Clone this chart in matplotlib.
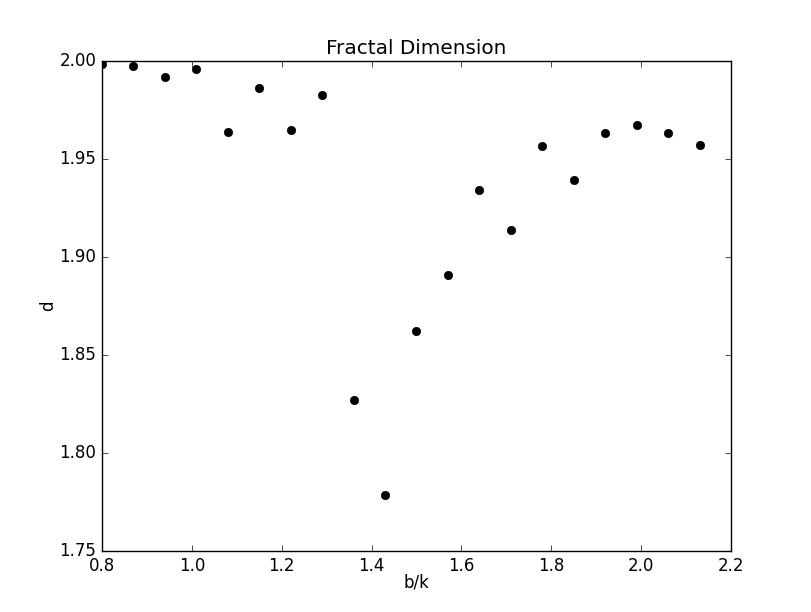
import numpy as np
import matplotlib
matplotlib.use("Agg")
import matplotlib.pyplot as plt

plt.style.use('classic')

bk = [0.80, 0.87, 0.94, 1.01, 1.08, 1.15, 1.22, 1.29, 1.36, 1.43,
      1.50, 1.57, 1.64, 1.71, 1.78, 1.85, 1.92, 1.99, 2.06, 2.13]
d = [1.9985, 1.9974, 1.9918, 1.9959, 1.9638, 1.9862, 1.9648, 1.9827, 1.8270, 1.7786,
     1.8622, 1.8908, 1.9342, 1.9138, 1.9566, 1.9393, 1.9633, 1.9673, 1.9633, 1.9571]

fig = plt.figure(figsize=(8.12, 6.12), dpi=100)
ax = fig.add_axes([102/812, 1 - 551/612, 629/812, 490/612])
ax.plot(bk, d, 'ko', markersize=6)
ax.set_xlim(0.8, 2.2)
ax.set_ylim(1.75, 2.00)
ax.set_title('Fractal Dimension')
ax.set_xlabel('b/k', labelpad=-1)
ax.set_ylabel('d', labelpad=2)
ax.yaxis.set_major_formatter(matplotlib.ticker.FormatStrFormatter('%.2f'))
fig.savefig('out.png', dpi=100)
